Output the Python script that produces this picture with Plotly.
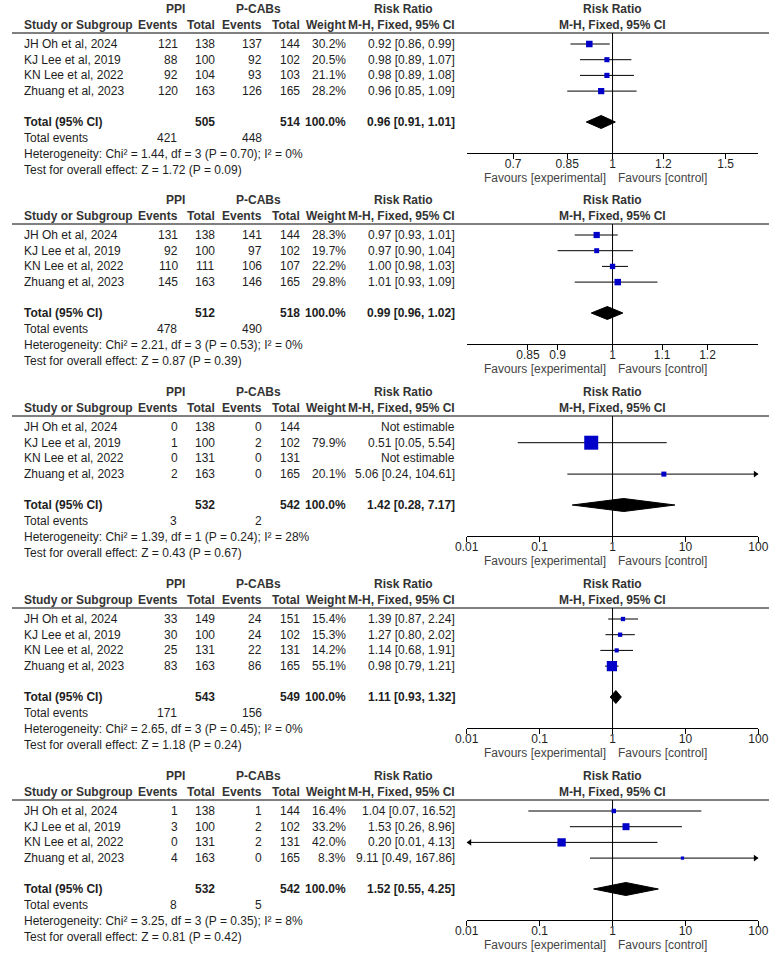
import math
import plotly.graph_objects as go

W, H = 779, 960

studies = ["JH Oh et al, 2024", "KJ Lee et al, 2019", "KN Lee et al, 2022", "Zhuang et al, 2023"]

# ---------------- Panel 1 ----------------
p1_ppi_events = [121, 88, 92, 120]
p1_ppi_total = [138, 100, 104, 163]
p1_pcab_events = [137, 92, 93, 126]
p1_pcab_total = [144, 102, 103, 165]
p1_weight = [30.2, 20.5, 21.1, 28.2]
p1_rr = [0.92, 0.98, 0.98, 0.96]
p1_lo = [0.86, 0.89, 0.89, 0.85]
p1_hi = [0.99, 1.07, 1.08, 1.09]
p1_totals = [505, 514]            # PPI total, P-CABs total
p1_total_rr = [0.96, 0.91, 1.01]  # estimate, lower, upper
p1_total_events = [421, 448]
p1_het = [1.44, 3, 0.70, 0]       # Chi2, df, P, I2
p1_effect = [1.72, 0.09]          # Z, P
p1_ticks = [0.7, 0.85, 1, 1.2, 1.5]
p1_ticklabels = ["0.7", "0.85", "1", "1.2", "1.5"]

# ---------------- Panel 2 ----------------
p2_ppi_events = [131, 92, 110, 145]
p2_ppi_total = [138, 100, 111, 163]
p2_pcab_events = [141, 97, 106, 146]
p2_pcab_total = [144, 102, 107, 165]
p2_weight = [28.3, 19.7, 22.2, 29.8]
p2_rr = [0.97, 0.97, 1.00, 1.01]
p2_lo = [0.93, 0.90, 0.98, 0.93]
p2_hi = [1.01, 1.04, 1.03, 1.09]
p2_totals = [512, 518]
p2_total_rr = [0.99, 0.96, 1.02]
p2_total_events = [478, 490]
p2_het = [2.21, 3, 0.53, 0]
p2_effect = [0.87, 0.39]
p2_ticks = [0.85, 0.9, 1, 1.1, 1.2]
p2_ticklabels = ["0.85", "0.9", "1", "1.1", "1.2"]

# ---------------- Panel 3 ----------------
p3_ppi_events = [0, 1, 0, 2]
p3_ppi_total = [138, 100, 131, 163]
p3_pcab_events = [0, 2, 0, 0]
p3_pcab_total = [144, 102, 131, 165]
p3_weight = [None, 79.9, None, 20.1]
p3_rr = [None, 0.51, None, 5.06]
p3_lo = [None, 0.05, None, 0.24]
p3_hi = [None, 5.54, None, 104.61]
p3_totals = [532, 542]
p3_total_rr = [1.42, 0.28, 7.17]
p3_total_events = [3, 2]
p3_het = [1.39, 1, 0.24, 28]
p3_effect = [0.43, 0.67]
p3_ticks = [0.01, 0.1, 1, 10, 100]
p3_ticklabels = ["0.01", "0.1", "1", "10", "100"]

# ---------------- Panel 4 ----------------
p4_ppi_events = [33, 30, 25, 83]
p4_ppi_total = [149, 100, 131, 163]
p4_pcab_events = [24, 24, 22, 86]
p4_pcab_total = [151, 102, 131, 165]
p4_weight = [15.4, 15.3, 14.2, 55.1]
p4_rr = [1.39, 1.27, 1.14, 0.98]
p4_lo = [0.87, 0.80, 0.68, 0.79]
p4_hi = [2.24, 2.02, 1.91, 1.21]
p4_totals = [543, 549]
p4_total_rr = [1.11, 0.93, 1.32]
p4_total_events = [171, 156]
p4_het = [2.65, 3, 0.45, 0]
p4_effect = [1.18, 0.24]
p4_ticks = [0.01, 0.1, 1, 10, 100]
p4_ticklabels = ["0.01", "0.1", "1", "10", "100"]

# ---------------- Panel 5 ----------------
p5_ppi_events = [1, 3, 0, 4]
p5_ppi_total = [138, 100, 131, 163]
p5_pcab_events = [1, 2, 2, 0]
p5_pcab_total = [144, 102, 131, 165]
p5_weight = [16.4, 33.2, 42.0, 8.3]
p5_rr = [1.04, 1.53, 0.20, 9.11]
p5_lo = [0.07, 0.26, 0.01, 0.49]
p5_hi = [16.52, 8.96, 4.13, 167.86]
p5_totals = [532, 542]
p5_total_rr = [1.52, 0.55, 4.25]
p5_total_events = [8, 5]
p5_het = [3.25, 3, 0.35, 8]
p5_effect = [0.81, 0.42]
p5_ticks = [0.01, 0.1, 1, 10, 100]
p5_ticklabels = ["0.01", "0.1", "1", "10", "100"]

panels = [
    dict(pe=p1_ppi_events, pt=p1_ppi_total, ce=p1_pcab_events, ct=p1_pcab_total, w=p1_weight,
         rr=p1_rr, lo=p1_lo, hi=p1_hi, tot=p1_totals, trr=p1_total_rr, tev=p1_total_events,
         het=p1_het, eff=p1_effect, ticks=p1_ticks, tlab=p1_ticklabels, half=0.227),
    dict(pe=p2_ppi_events, pt=p2_ppi_total, ce=p2_pcab_events, ct=p2_pcab_total, w=p2_weight,
         rr=p2_rr, lo=p2_lo, hi=p2_hi, tot=p2_totals, trr=p2_total_rr, tev=p2_total_events,
         het=p2_het, eff=p2_effect, ticks=p2_ticks, tlab=p2_ticklabels, half=0.1215),
    dict(pe=p3_ppi_events, pt=p3_ppi_total, ce=p3_pcab_events, ct=p3_pcab_total, w=p3_weight,
         rr=p3_rr, lo=p3_lo, hi=p3_hi, tot=p3_totals, trr=p3_total_rr, tev=p3_total_events,
         het=p3_het, eff=p3_effect, ticks=p3_ticks, tlab=p3_ticklabels, half=2.0),
    dict(pe=p4_ppi_events, pt=p4_ppi_total, ce=p4_pcab_events, ct=p4_pcab_total, w=p4_weight,
         rr=p4_rr, lo=p4_lo, hi=p4_hi, tot=p4_totals, trr=p4_total_rr, tev=p4_total_events,
         het=p4_het, eff=p4_effect, ticks=p4_ticks, tlab=p4_ticklabels, half=2.0),
    dict(pe=p5_ppi_events, pt=p5_ppi_total, ce=p5_pcab_events, ct=p5_pcab_total, w=p5_weight,
         rr=p5_rr, lo=p5_lo, hi=p5_hi, tot=p5_totals, trr=p5_total_rr, tev=p5_total_events,
         het=p5_het, eff=p5_effect, ticks=p5_ticks, tlab=p5_ticklabels, half=2.0),
]

# ---------------- layout constants ----------------
FONT = "Liberation Sans, Arial, sans-serif"
TXT = "#1e1e1e"
HDR = "#333333"
BLUE = "#0000C8"
PANEL_TOP = [33, 224, 416, 608, 800]   # header rule pixel y for each panel
PLOT_X0, PLOT_X1 = 468, 768
COL_STUDY = 11
COL_PE, COL_PT, COL_CE, COL_CT, COL_W, COL_CI = 172, 210, 258, 297, 345, 457
ROW_Y = [11, 26.7, 42.4, 58.1]
Y_TOTAL, Y_TEV, Y_HET, Y_EFF = 89, 105, 121, 137
Y_AXIS = 120

fig = go.Figure()
annotations = []
shapes = []


def ann(x, y, text, L, anchor="left", bold=False, color=TXT, size=12):
    annotations.append(dict(
        x=x / W, y=1 - (L + y) / H, xref="paper", yref="paper",
        text=("<b>%s</b>" % text) if bold else text,
        showarrow=False, xanchor=anchor, yanchor="middle", borderpad=0,
        align=anchor if anchor != "center" else "center",
        font=dict(family=FONT, size=size, color=color)))


for idx, (pn, L) in enumerate(zip(panels, PANEL_TOP)):
    k = idx + 1
    xa = "x" if k == 1 else "x%d" % k
    ya = "y" if k == 1 else "y%d" % k
    lo_lim, hi_lim = -pn["half"], pn["half"]

    fig.layout["xaxis" if k == 1 else "xaxis%d" % k] = dict(
        type="log", domain=[PLOT_X0 / W, PLOT_X1 / W], range=[lo_lim, hi_lim],
        anchor=ya, showline=True, linecolor="black", linewidth=1, ticks="outside",
        ticklen=5, tickwidth=1, tickcolor="black", tickvals=pn["ticks"], ticktext=pn["tlab"],
        showgrid=False, zeroline=False, fixedrange=True, ticklabelstandoff=-5,
        tickfont=dict(family=FONT, size=12, color=TXT))
    fig.layout["yaxis" if k == 1 else "yaxis%d" % k] = dict(
        domain=[1 - (L + Y_AXIS) / H, 1 - (L - 30) / H], range=[Y_AXIS, -30],
        visible=False, anchor=xa, fixedrange=True)

    # header rule
    shapes.append(dict(type="line", xref="paper", yref="paper", x0=0, x1=1,
                       y0=1 - L / H, y1=1 - L / H, line=dict(color="black", width=1)))

    # headers
    ann(168, -24, "PPI", L, "center", True, HDR)
    ann(254, -24, "P-CABs", L, "center", True, HDR)
    ann(403, -24, "Risk Ratio", L, "center", True, HDR)
    ann(618, -24, "Risk Ratio", L, "center", True, HDR)
    ann(COL_STUDY, -8, "Study or Subgroup", L, "left", True, HDR)
    ann(COL_PE, -8, "Events", L, "right", True, HDR)
    ann(COL_PT, -8, "Total", L, "right", True, HDR)
    ann(COL_CE, -8, "Events", L, "right", True, HDR)
    ann(COL_CT, -8, "Total", L, "right", True, HDR)
    ann(COL_W, -8, "Weight", L, "right", True, HDR)
    ann(COL_CI, -8, "M-H, Fixed, 95% CI", L, "right", True, HDR)
    ann(618, -8, "M-H, Fixed, 95% CI", L, "center", True, HDR)

    # line of no effect
    fig.add_trace(go.Scatter(x=[1, 1], y=[0, Y_AXIS], mode="lines", xaxis=xa, yaxis=ya,
                             line=dict(color="black", width=1), hoverinfo="skip",
                             showlegend=False))

    xmin, xmax = 10 ** lo_lim, 10 ** hi_lim
    px_per_dec = (PLOT_X1 - PLOT_X0) / (hi_lim - lo_lim)
    shift = 10 ** (3.0 / px_per_dec)

    for i, s in enumerate(studies):
        y = ROW_Y[i]
        ann(COL_STUDY, y, s, L, "left")
        ann(COL_PE, y, str(pn["pe"][i]), L, "right")
        ann(COL_PT, y, str(pn["pt"][i]), L, "right")
        ann(COL_CE, y, str(pn["ce"][i]), L, "right")
        ann(COL_CT, y, str(pn["ct"][i]), L, "right")
        if pn["rr"][i] is None:
            ann(COL_CI, y, "Not estimable", L, "right")
            continue
        ann(COL_W, y, "%.1f%%" % pn["w"][i], L, "right")
        ann(COL_CI, y, "%.2f [%.2f, %.2f]" % (pn["rr"][i], pn["lo"][i], pn["hi"][i]), L, "right")

        lo = max(pn["lo"][i], xmin)
        hi = min(pn["hi"][i], xmax)
        fig.add_trace(go.Scatter(x=[lo, hi], y=[y, y], mode="lines", xaxis=xa, yaxis=ya,
                                 line=dict(color="black", width=1), hoverinfo="skip",
                                 showlegend=False, cliponaxis=False))
        if pn["lo"][i] <= xmin * 1.0001:
            fig.add_trace(go.Scatter(x=[xmin * shift], y=[y], mode="markers", xaxis=xa, yaxis=ya,
                                     marker=dict(symbol="triangle-left", size=6, color="black"),
                                     hoverinfo="skip", showlegend=False, cliponaxis=False))
        if pn["hi"][i] >= xmax * 0.9999:
            fig.add_trace(go.Scatter(x=[xmax / shift], y=[y], mode="markers", xaxis=xa, yaxis=ya,
                                     marker=dict(symbol="triangle-right", size=6, color="black"),
                                     hoverinfo="skip", showlegend=False, cliponaxis=False))
        fig.add_trace(go.Scatter(x=[pn["rr"][i]], y=[y], mode="markers", xaxis=xa, yaxis=ya,
                                 marker=dict(symbol="square", size=2 + 0.15 * pn["w"][i],
                                             color=BLUE, line=dict(width=0)),
                                 hoverinfo="skip", showlegend=False, cliponaxis=False))

    # totals
    ann(COL_STUDY, Y_TOTAL, "Total (95% CI)", L, "left", True)
    ann(COL_PT, Y_TOTAL, str(pn["tot"][0]), L, "right", True)
    ann(COL_CT, Y_TOTAL, str(pn["tot"][1]), L, "right", True)
    ann(COL_W, Y_TOTAL, "100.0%", L, "right", True)
    ann(COL_CI, Y_TOTAL, "%.2f [%.2f, %.2f]" % tuple(pn["trr"]), L, "right", True)
    est, tlo, thi = pn["trr"]
    dh = 6.5
    fig.add_trace(go.Scatter(x=[tlo, est, thi, est, tlo],
                             y=[Y_TOTAL, Y_TOTAL - dh, Y_TOTAL, Y_TOTAL + dh, Y_TOTAL],
                             mode="lines", fill="toself", fillcolor="black", xaxis=xa, yaxis=ya,
                             line=dict(color="black", width=1), hoverinfo="skip",
                             showlegend=False))

    ann(COL_STUDY, Y_TEV, "Total events", L, "left")
    ann(COL_PE - 1, Y_TEV, str(pn["tev"][0]), L, "right")
    ann(COL_CE, Y_TEV, str(pn["tev"][1]), L, "right")
    chi, df, p, i2 = pn["het"]
    ann(COL_STUDY, Y_HET, "Heterogeneity: Chi² = %.2f, df = %d (P = %.2f); I² = %d%%" % (chi, df, p, i2),
        L, "left")
    ann(COL_STUDY, Y_EFF, "Test for overall effect: Z = %.2f (P = %.2f)" % tuple(pn["eff"]), L, "left")

    # favours labels
    ann(612, 145, "Favours [experimental]", L, "right", color="#444444")
    ann(623, 145, "Favours [control]", L, "left", color="#444444")

fig.update_layout(
    width=W, height=H, autosize=False, margin=dict(l=0, r=0, t=0, b=0, pad=0),
    paper_bgcolor="white", plot_bgcolor="white",
    annotations=annotations, shapes=shapes, showlegend=False,
    font=dict(family=FONT, size=12, color=TXT),
)

fig.write_html(
    "out.html",
    config={"displayModeBar": False, "responsive": False},
    post_script=("document.documentElement.style.overflow='hidden';"
                 "document.body.style.overflow='hidden';"
                 "document.body.style.margin='0px';"),
)
